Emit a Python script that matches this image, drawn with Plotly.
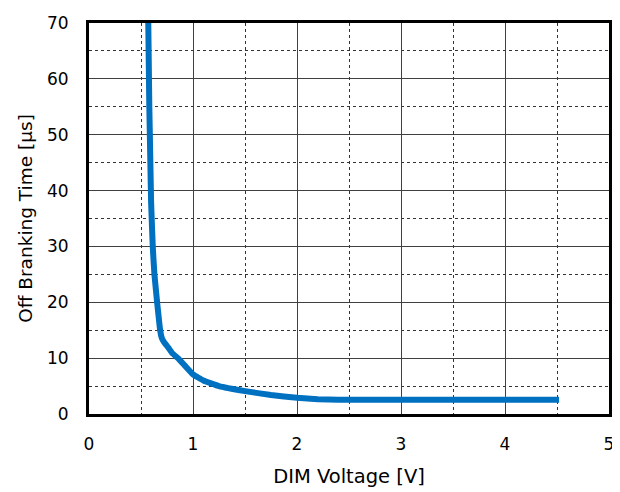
import plotly.graph_objects as go

dim_voltage = [0.57, 0.58, 0.59, 0.597, 0.613, 0.629, 0.655, 0.684, 0.70, 0.72, 0.745, 0.77, 0.80, 0.855, 0.92, 1.0, 1.1, 1.25, 1.5, 1.75, 2.0, 2.2, 2.4, 3.0, 4.0, 4.52]
off_time = [70, 55, 45, 38, 30, 25, 20, 15, 13.6, 12.9, 12.3, 11.7, 10.9, 10.0, 8.7, 7.1, 6.0, 5.0, 4.1, 3.4, 2.9, 2.65, 2.55, 2.55, 2.55, 2.55]

fig = go.Figure()
fig.add_trace(go.Scatter(x=dim_voltage, y=off_time, mode="lines",
                         line=dict(color="#0070C0", width=6, shape="spline", smoothing=0.3),
                         showlegend=False))

font = "DejaVu Sans, Verdana, sans-serif"
# page body has an 8px default margin, so the figure is offset by (8, 8)
fig.update_layout(
    width=612, height=484,
    margin=dict(l=81, r=11, t=15, b=78),
    paper_bgcolor="white", plot_bgcolor="white",
    font=dict(family=font, size=17, color="black"),
    xaxis=dict(range=[0, 5], dtick=1, tick0=0, showgrid=True, gridcolor="#404040", gridwidth=1,
               minor=dict(dtick=0.5, showgrid=True, gridcolor="#333333", griddash="dot", gridwidth=1),
               showline=True, linecolor="black", linewidth=3, mirror=True,
               ticks="", zeroline=False, automargin=False, ticklabelstandoff=13,
               title=dict(text="DIM Voltage [V]", font=dict(size=19.5), standoff=16)),
    yaxis=dict(range=[0, 70], dtick=10, tick0=0, showgrid=True, gridcolor="#404040", gridwidth=1,
               minor=dict(dtick=5, showgrid=True, gridcolor="#333333", griddash="dot", gridwidth=1),
               showline=True, linecolor="black", linewidth=3, mirror=True,
               ticks="", zeroline=False, automargin=False, ticklabelstandoff=14,
               title=dict(text="Off Branking Time [µs]", font=dict(size=18.5), standoff=10)),
)
fig.write_html("out.html")
